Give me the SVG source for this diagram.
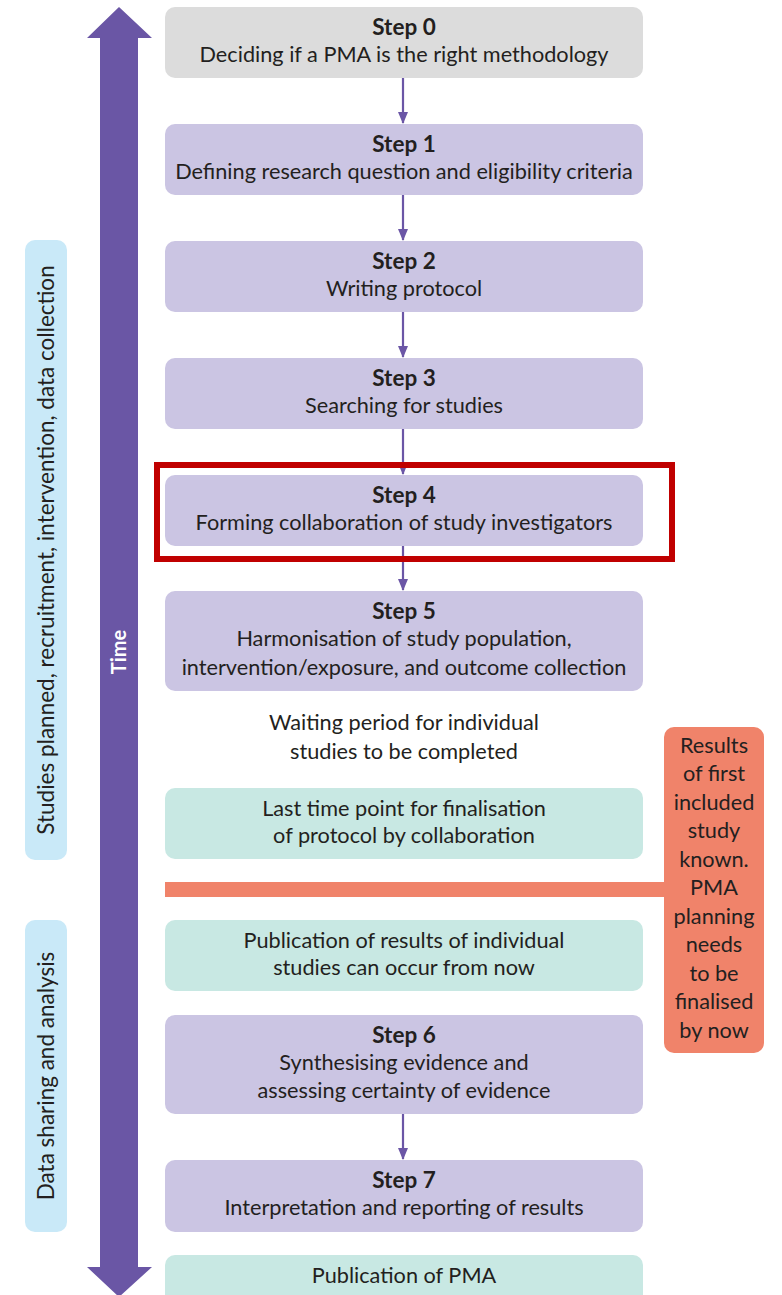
<svg xmlns="http://www.w3.org/2000/svg" width="782" height="1295" viewBox="0 0 782 1295">
<style>
text{font-family:Lato,"Open Sans","Liberation Sans",sans-serif;fill:#231f20;text-anchor:middle}
.t{font-size:21.7px}
.b{font-size:22.5px;font-weight:bold}
.s{font-size:22.5px}
.step{fill:#cbc5e3}
.teal{fill:#c8e8e3}
.side{fill:#c9e9f8}
.conn{stroke:#6b56a6;stroke-width:2.2;fill:none}
</style>
<defs>
<marker id="ah" markerWidth="12" markerHeight="10" refX="11" refY="5" orient="auto" markerUnits="userSpaceOnUse">
<path d="M0,0 L12,5 L0,10 Z" fill="#6b56a6"/>
</marker>
</defs>
<rect width="782" height="1295" fill="#ffffff"/>

<g id="time-arrow">
<path d="M100,38 L87,38 L119,7 L152,38 L138,38 L138,1267 L152,1267 L119,1297 L87,1267 L100,1267 Z" fill="#6a56a5"/>
<text x="0" y="0" transform="translate(126,652) rotate(-90)" style="font-size:20px;font-weight:bold;fill:#ffffff">Time</text>
</g>

<g id="side-planned">
<rect class="side" x="25" y="240" width="42" height="620" rx="10"/>
<text class="s" transform="translate(54,550) rotate(-90)">Studies planned, recruitment, intervention, data collection</text>
</g>
<g id="side-analysis">
<rect class="side" x="25" y="920" width="42" height="312" rx="10"/>
<text class="s" transform="translate(54,1076) rotate(-90)">Data sharing and analysis</text>
</g>

<g id="connectors">
<line class="conn" x1="403" y1="78" x2="403" y2="123" marker-end="url(#ah)"/>
<line class="conn" x1="403" y1="195" x2="403" y2="240" marker-end="url(#ah)"/>
<line class="conn" x1="403" y1="312" x2="403" y2="357" marker-end="url(#ah)"/>
<line class="conn" x1="403" y1="429" x2="403" y2="474" marker-end="url(#ah)"/>
<line class="conn" x1="403" y1="546" x2="403" y2="590" marker-end="url(#ah)"/>
<line class="conn" x1="403" y1="1114" x2="403" y2="1159" marker-end="url(#ah)"/>
</g>

<g id="step0">
<rect x="165" y="7" width="478" height="71" rx="10" fill="#dcdcdc"/>
<text class="b" x="404" y="35">Step 0</text>
<text class="t" x="404" y="62">Deciding if a PMA is the right methodology</text>
</g>
<g id="step1">
<rect class="step" x="165" y="124" width="478" height="71" rx="10"/>
<text class="b" x="404" y="152">Step 1</text>
<text class="t" x="404" y="179">Defining research question and eligibility criteria</text>
</g>
<g id="step2">
<rect class="step" x="165" y="241" width="478" height="71" rx="10"/>
<text class="b" x="404" y="269">Step 2</text>
<text class="t" x="404" y="296">Writing protocol</text>
</g>
<g id="step3">
<rect class="step" x="165" y="358" width="478" height="71" rx="10"/>
<text class="b" x="404" y="386">Step 3</text>
<text class="t" x="404" y="413">Searching for studies</text>
</g>
<g id="step4">
<rect class="step" x="165" y="475" width="478" height="71" rx="10"/>
<text class="b" x="404" y="503">Step 4</text>
<text class="t" x="404" y="530">Forming collaboration of study investigators</text>
<rect x="157" y="465" width="515" height="94" fill="none" stroke="#c00000" stroke-width="6"/>
</g>
<g id="step5">
<rect class="step" x="165" y="591" width="478" height="100" rx="10"/>
<text class="b" x="404" y="619">Step 5</text>
<text class="t" x="404" y="646">Harmonisation of study population,</text>
<text class="t" x="404" y="675">intervention/exposure, and outcome collection</text>
</g>
<g id="waiting">
<text class="t" x="404" y="730">Waiting period for individual</text>
<text class="t" x="404" y="759">studies to be completed</text>
</g>
<g id="last-time-point">
<rect class="teal" x="165" y="788" width="478" height="71" rx="10"/>
<text class="t" x="404" y="816">Last time point for finalisation</text>
<text class="t" x="404" y="843">of protocol by collaboration</text>
</g>
<g id="results-known">
<rect x="165" y="882" width="505" height="15" fill="#f0836a"/>
<rect x="664" y="727" width="100" height="326" rx="10" fill="#f0836a"/>
<text class="t" x="714" y="753">Results</text>
<text class="t" x="714" y="781">of first</text>
<text class="t" x="714" y="810">included</text>
<text class="t" x="714" y="838">study</text>
<text class="t" x="714" y="867">known.</text>
<text class="t" x="714" y="895">PMA</text>
<text class="t" x="714" y="924">planning</text>
<text class="t" x="714" y="952">needs</text>
<text class="t" x="714" y="981">to be</text>
<text class="t" x="714" y="1009">finalised</text>
<text class="t" x="714" y="1038">by now</text>
</g>
<g id="publication-individual">
<rect class="teal" x="165" y="920" width="478" height="71" rx="10"/>
<text class="t" x="404" y="948">Publication of results of individual</text>
<text class="t" x="404" y="975">studies can occur from now</text>
</g>
<g id="step6">
<rect class="step" x="165" y="1015" width="478" height="99" rx="10"/>
<text class="b" x="404" y="1043">Step 6</text>
<text class="t" x="404" y="1070">Synthesising evidence and</text>
<text class="t" x="404" y="1098">assessing certainty of evidence</text>
</g>
<g id="step7">
<rect class="step" x="165" y="1160" width="478" height="72" rx="10"/>
<text class="b" x="404" y="1188">Step 7</text>
<text class="t" x="404" y="1215">Interpretation and reporting of results</text>
</g>
<g id="publication-pma">
<rect class="teal" x="165" y="1255" width="478" height="60" rx="10"/>
<text class="t" x="404" y="1283">Publication of PMA</text>
</g>
</svg>
